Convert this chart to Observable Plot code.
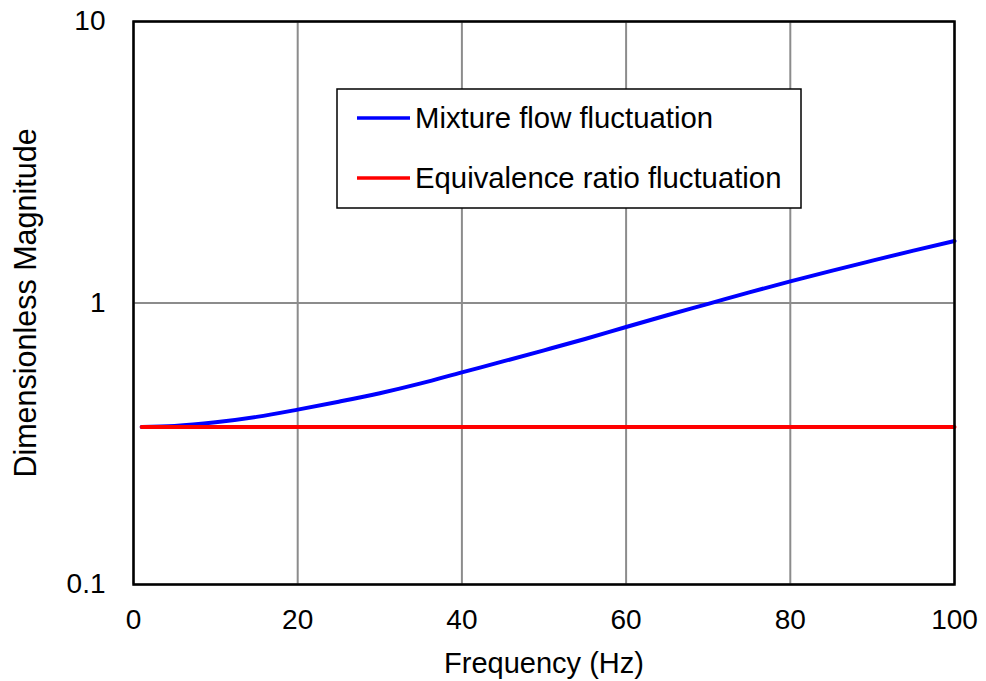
<!DOCTYPE html>
<html>
<head>
<meta charset="utf-8">
<script src="https://cdn.jsdelivr.net/npm/d3@7"></script>
<script src="https://cdn.jsdelivr.net/npm/@observablehq/plot@0.6"></script>
<style>
  body { margin: 0; background: #fff; }
  #chart svg { display: block; }
  #chart [aria-label="x-axis label"] text { font-size: 29px; }
  #chart [aria-label="y-axis label"] text { font-size: 30.5px; }
</style>
</head>
<body>
<div id="chart"></div>
<script>
// Frequency response of the two forcing fluctuations
const frequencyHz = [1, 5, 10, 15, 20, 25, 30, 35, 40, 45, 50, 55, 60, 65, 70, 75, 80, 85, 90, 95, 100];
const mixtureFlow = [0.363, 0.366, 0.377, 0.394, 0.418, 0.446, 0.478, 0.518, 0.567, 0.620, 0.679, 0.745, 0.822, 0.905, 0.993, 1.091, 1.193, 1.301, 1.414, 1.535, 1.660];
const equivalenceRatio = [0.363, 0.363, 0.363, 0.363, 0.363, 0.363, 0.363, 0.363, 0.363, 0.363, 0.363, 0.363, 0.363, 0.363, 0.363, 0.363, 0.363, 0.363, 0.363, 0.363, 0.363];
const seriesNames = ["Mixture flow fluctuation", "Equivalence ratio fluctuation"];
const seriesColors = ["#0000ff", "#ff0000"];
const xTicks = [0, 20, 40, 60, 80, 100];
const yTicks = [0.1, 1, 10];

const rows = (values) => frequencyHz.map((f, i) => ({ f, v: values[i] }));
const fontFamily = "'Liberation Sans', Arial, Helvetica, sans-serif";

const chart = Plot.plot({
  width: 986,
  height: 681,
  marginLeft: 133,
  marginRight: 32,
  marginTop: 21,
  marginBottom: 97,
  style: { fontFamily, fontSize: "28px", color: "#000", background: "#fff" },
  x: {
    domain: [0, 100],
    ticks: xTicks,
    tickSize: 0,
    tickPadding: 25,
    label: "Frequency (Hz)",
    labelAnchor: "center",
    labelArrow: "none",
    labelOffset: 88
  },
  y: {
    type: "log",
    domain: [0.1, 10],
    ticks: yTicks,
    tickFormat: (d) => String(d),
    tickSize: 0,
    tickPadding: 28,
    label: "Dimensionless Magnitude",
    labelAnchor: "center",
    labelArrow: "none",
    labelOffset: 119
  },
  marks: [
    Plot.gridX(xTicks, { stroke: "#8c8c8c", strokeOpacity: 1, strokeWidth: 2 }),
    Plot.gridY(yTicks, { stroke: "#8c8c8c", strokeOpacity: 1, strokeWidth: 2 }),
    Plot.line(rows(mixtureFlow), { x: "f", y: "v", stroke: seriesColors[0], strokeWidth: 4, curve: "monotone-x" }),
    Plot.line(rows(equivalenceRatio), { x: "f", y: "v", stroke: seriesColors[1], strokeWidth: 4, curve: "monotone-x" }),
    Plot.frame({ stroke: "#000", strokeWidth: 2.5 })
  ]
});

document.getElementById("chart").append(chart);

// Boxed legend in the upper middle of the plot area
const svg = d3.select(chart);
const legend = svg.append("g")
  .attr("font-family", fontFamily)
  .attr("font-size", 29.3)
  .attr("text-anchor", "start");
legend.append("rect")
  .attr("x", 337).attr("y", 89).attr("width", 464).attr("height", 119)
  .attr("fill", "#fff").attr("stroke", "#000").attr("stroke-width", 1.5);
seriesNames.forEach((name, i) => {
  const cy = 118 + i * 60;
  legend.append("line")
    .attr("x1", 357).attr("x2", 410).attr("y1", cy).attr("y2", cy)
    .attr("stroke", seriesColors[i]).attr("stroke-width", 3.5);
  legend.append("text")
    .attr("x", 415).attr("y", cy).attr("dy", "0.35em")
    .attr("text-anchor", "start")
    .attr("fill", "#000").text(name);
});
</script>
</body>
</html>
